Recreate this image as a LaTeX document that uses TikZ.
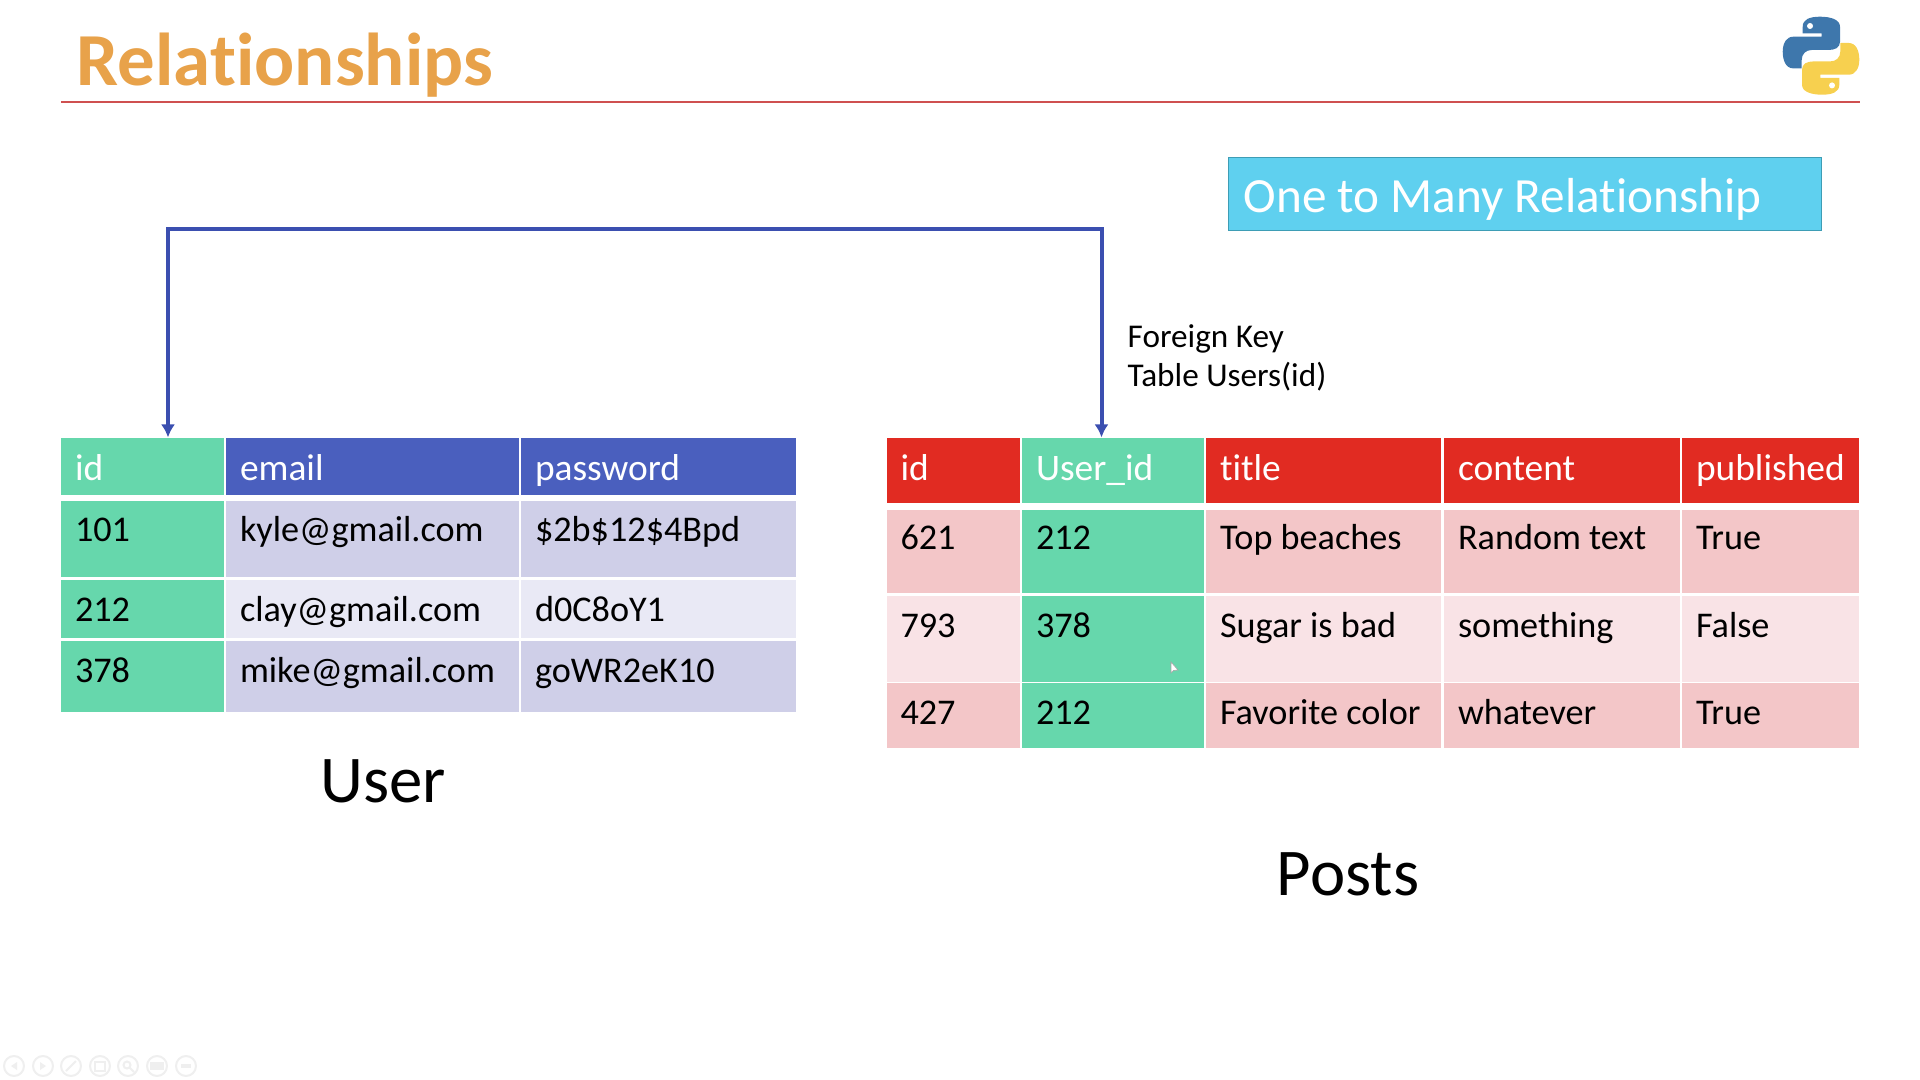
\documentclass[tikz,border=0pt]{standalone}
\usepackage{fontspec}
\setmainfont[Ligatures=NoCommon]{Carlito}
\usetikzlibrary{arrows.meta}

\definecolor{mint}{HTML}{66D7AC}
\definecolor{usrhead}{HTML}{4A5FBE}
\definecolor{usrdark}{HTML}{CFCFE8}
\definecolor{usrpale}{HTML}{E9E9F5}
\definecolor{posthead}{HTML}{E12B22}
\definecolor{postdark}{HTML}{F3C6C8}
\definecolor{postpale}{HTML}{F9E3E6}
\definecolor{titleorange}{HTML}{E8A24A}
\definecolor{rulered}{HTML}{CF5050}
\definecolor{linkblue}{HTML}{3B4FB0}
\definecolor{skybox}{HTML}{5FD0EF}
\definecolor{skyedge}{HTML}{3E9DB5}
\definecolor{toolgray}{HTML}{EFEFEF}
\definecolor{pyblue}{HTML}{3E77AC}
\definecolor{pyyellow}{HTML}{F7D04F}

\tikzset{
	cell/.style n args={3}{anchor=north west,inner xsep=.14cm,inner ysep=0pt,outer sep=0pt,
		text width=#1cm-.28cm,text height=#3cm,text depth=#2cm-#3cm,align=flush left,
		font=\fontsize{10.3}{12}\selectfont},
	headtext/.style={text=white,font=\fontsize{10.65}{12}\selectfont},
	link/.style={draw=linkblue,line width=.04cm,{Latex[length=.13cm,width=.14cm]}-{Latex[length=.13cm,width=.14cm]}},
	toolbtn/.style={draw=toolgray,line width=.02cm,fill=white}
}

\newcommand{\snakepath}{
	(-.01,-.39) .. controls (-.12,-.39) and (-.183,-.36) .. (-.183,-.29) -- (-.183,-.223) -- (.007,-.223) -- (.007,-.19) -- (-.277,-.19)
	.. controls (-.35,-.19) and (-.383,-.12) .. (-.383,-.04) .. controls (-.383,.05) and (-.35,.127) .. (-.277,.127)
	-- (-.193,.127) -- (-.193,.043) .. controls (-.193,-.02) and (-.15,-.057) .. (-.093,-.057) -- (.073,-.057)
	.. controls (.14,-.057) and (.19,-.08) .. (.19,-.14) -- (.19,-.29) .. controls (.19,-.36) and (.1,-.39) .. (-.01,-.39) -- cycle
}

\begin{document}
\begin{tikzpicture}[y=-1cm]
	\useasboundingbox (0,0) rectangle (19.2,10.8);

	% heading
	\node[anchor=base west,inner sep=0pt,text=titleorange,font=\fontsize{21.3}{26}\selectfont\bfseries] (title) at (.76,.86) {Relationships};
	\draw[rulered,line width=.025cm] (.61,1.02) -- (18.6,1.02);

	% logo
	\begin{scope}[shift={(18.21,.557)}]
		\fill[pyblue] \snakepath;
		\fill[white] (-.11,-.297) circle (.03);
	\end{scope}
	\begin{scope}[shift={(18.21,.557)},rotate=180]
		\fill[pyyellow] \snakepath;
		\fill[white] (-.11,-.297) circle (.03);
	\end{scope}

	\node[anchor=north west,draw=skyedge,fill=skybox,line width=.012cm,minimum width=5.93cm,minimum height=.73cm,inner sep=0pt] (relbox) at (12.28,1.57) {};
	\node[anchor=base west,inner sep=0pt,text=white,font=\fontsize{14}{16}\selectfont] (reltext) at (12.43,2.13) {One to Many Relationship};

	\node[anchor=west,inner sep=0pt,align=left,font=\fontsize{9.45}{11.1}\selectfont] (fklabel) at (11.27,3.58) {Foreign Key\\Table Users(id)};

	% user table
	\node[cell={1.63}{.56}{.42},fill=mint,headtext] (usrid) at (.61,4.385) {id};
	\node[cell={2.93}{.56}{.42},fill=usrhead,headtext] (usremail) at (2.26,4.385) {email};
	\node[cell={2.75}{.56}{.42},fill=usrhead,headtext] (usrpass) at (5.21,4.385) {password};

	\node[cell={1.63}{.76}{.40},fill=mint] (usrA) at (.61,5.01) {101};
	\node[cell={2.93}{.76}{.40},fill=usrdark] (emailA) at (2.26,5.01) {kyle@gmail.com};
	\node[cell={2.75}{.76}{.40},fill=usrdark] (passA) at (5.21,5.01) {\$2b\$12\$4Bpd};

	\node[cell={1.63}{.58}{.41},fill=mint] (usrB) at (.61,5.80) {212};
	\node[cell={2.93}{.58}{.41},fill=usrpale] (emailB) at (2.26,5.80) {clay@gmail.com};
	\node[cell={2.75}{.58}{.41},fill=usrpale] (passB) at (5.21,5.80) {d0C8oY1};

	\node[cell={1.63}{.71}{.41},fill=mint] (usrC) at (.61,6.41) {378};
	\node[cell={2.93}{.71}{.41},fill=usrdark] (emailC) at (2.26,6.41) {mike@gmail.com};
	\node[cell={2.75}{.71}{.41},fill=usrdark] (passC) at (5.21,6.41) {goWR2eK10};

	\node[anchor=base,inner sep=0pt,font=\fontsize{19}{24}\selectfont] (usrname) at (3.83,8.02) {User};

	% posts table
	\node[cell={1.335}{.65}{.42},fill=posthead,headtext] (postid) at (8.865,4.385) {id};
	\node[cell={1.82}{.65}{.42},fill=mint,headtext] (postusr) at (10.22,4.385) {User\_id};
	\node[cell={2.35}{.65}{.42},fill=posthead,headtext] (posttitle) at (12.06,4.385) {title};
	\node[cell={2.36}{.65}{.42},fill=posthead,headtext] (postbody) at (14.44,4.385) {content};
	\node[cell={1.77}{.65}{.42},fill=posthead,headtext] (postpub) at (16.82,4.385) {published};

	\node[cell={1.335}{.83}{.39},fill=postdark] (postA) at (8.865,5.10) {621};
	\node[cell={1.82}{.83}{.39},fill=mint] (refA) at (10.22,5.10) {212};
	\node[cell={2.35}{.83}{.39},fill=postdark] (titleA) at (12.06,5.10) {Top beaches};
	\node[cell={2.36}{.83}{.39},fill=postdark] (bodyA) at (14.44,5.10) {Random text};
	\node[cell={1.77}{.83}{.39},fill=postdark] (pubA) at (16.82,5.10) {True};

	\node[cell={1.335}{.86}{.41},fill=postpale] (postB) at (8.865,5.96) {793};
	\node[cell={1.82}{.86}{.41},fill=mint] (refB) at (10.22,5.96) {378};
	\node[cell={2.35}{.86}{.41},fill=postpale] (titleB) at (12.06,5.96) {Sugar is bad};
	\node[cell={2.36}{.86}{.41},fill=postpale] (bodyB) at (14.44,5.96) {something};
	\node[cell={1.77}{.86}{.41},fill=postpale] (pubB) at (16.82,5.96) {False};

	\node[cell={1.335}{.65}{.41},fill=postdark] (postC) at (8.865,6.83) {427};
	\node[cell={1.82}{.65}{.41},fill=mint] (refC) at (10.22,6.83) {212};
	\node[cell={2.35}{.65}{.41},fill=postdark] (titleC) at (12.06,6.83) {Favorite color};
	\node[cell={2.36}{.65}{.41},fill=postdark] (bodyC) at (14.44,6.83) {whatever};
	\node[cell={1.77}{.65}{.41},fill=postdark] (pubC) at (16.82,6.83) {True};

	\node[anchor=base,inner sep=0pt,font=\fontsize{19}{24}\selectfont] (postname) at (13.48,8.95) {Posts};

	% foreign key link
	\coordinate (turnusr) at (1.68,2.295);
	\coordinate (turnpost) at (11.015,2.295);
	\draw[link] ([yshift=.3pt]usrid.north -| turnusr) -- (turnusr) -- (turnpost) -- ([yshift=.3pt]postusr.north -| turnpost);

	% pointer
	\draw[gray!70,fill=white,line width=.006cm] (11.71,6.62) -- (11.71,6.73) -- (11.735,6.705) -- (11.78,6.70) -- cycle;

	% slideshow buttons
	\draw[toolbtn] (.14,10.66) circle (.1); \fill[toolgray] (.11,10.66) -- (.17,10.62) -- (.17,10.70) -- cycle;
	\draw[toolbtn] (.43,10.66) circle (.1); \fill[toolgray] (.46,10.66) -- (.40,10.62) -- (.40,10.70) -- cycle;
	\draw[toolbtn] (.71,10.66) circle (.1); \draw[toolgray,line width=.02cm] (.66,10.71) -- (.76,10.61);
	\draw[toolbtn] (1.00,10.66) circle (.1); \draw[toolgray,line width=.02cm] (.95,10.62) rectangle (1.05,10.71);
	\draw[toolbtn] (1.28,10.66) circle (.1); \draw[toolgray,line width=.02cm] (1.27,10.65) circle (.035) (1.30,10.68) -- (1.34,10.72);
	\draw[toolbtn] (1.57,10.66) circle (.1); \fill[toolgray] (1.50,10.62) rectangle (1.64,10.70);
	\draw[toolbtn] (1.86,10.66) circle (.1); \fill[toolgray] (1.81,10.64) rectangle (1.91,10.68);
\end{tikzpicture}
\end{document}
